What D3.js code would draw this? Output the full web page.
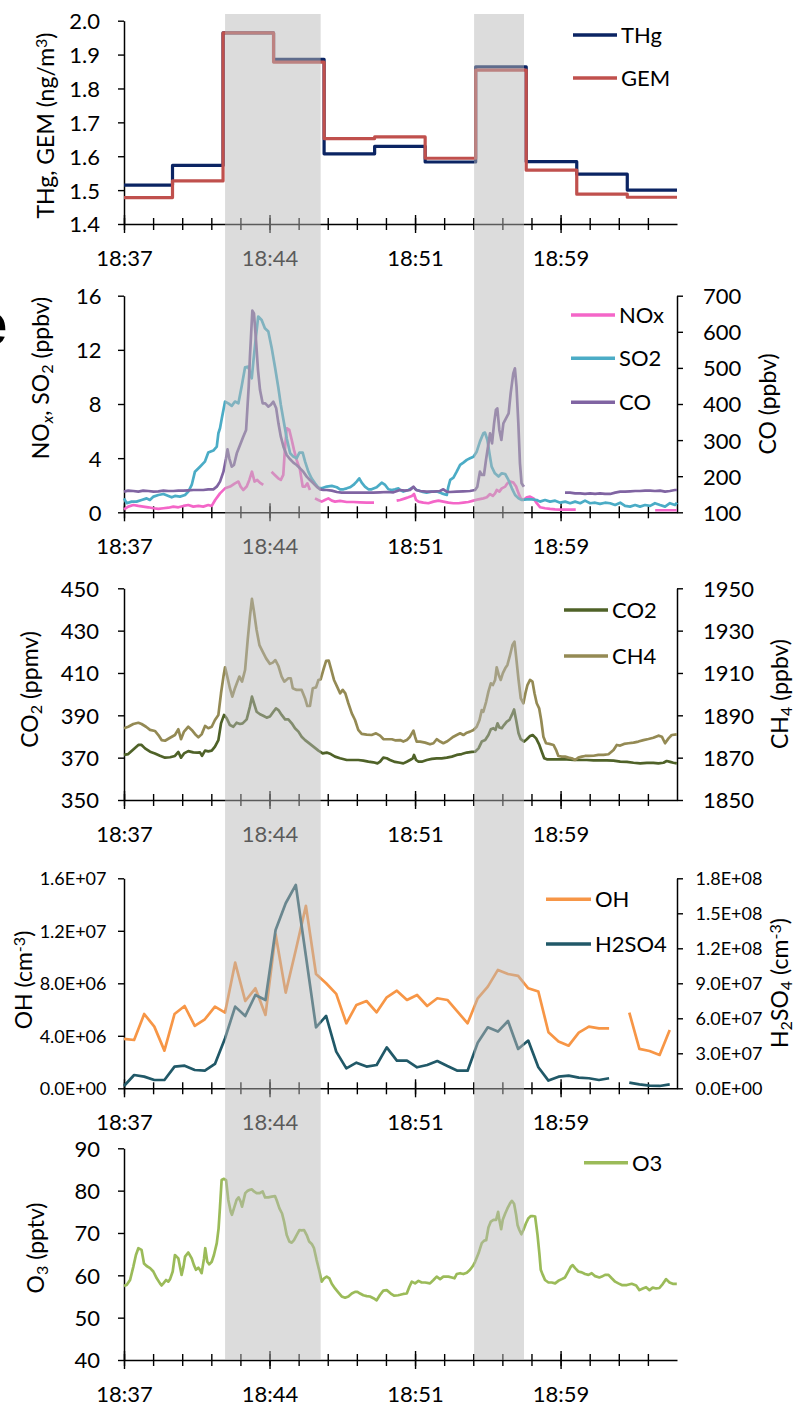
<!DOCTYPE html>
<html>
<head>
<meta charset="utf-8">
<script src="https://cdn.jsdelivr.net/npm/d3@7/dist/d3.min.js"></script>
<style>
  body { margin: 0; background: #fff; }
  svg { display: block; }
  text { font-family: Lato, "Open Sans", sans-serif; fill: #000; }
</style>
</head>
<body>
<svg id="fig" width="795" height="1406"></svg>
<script>
// ---- time axis (minutes after 18:37:00) ----
const axisEndMin = 27.36;
const minorTickMin = [0, 1.44, 2.88, 4.32, 5.76, 7.2, 8.64, 10.08, 11.52, 12.96, 14.4, 15.84, 17.28, 18.72, 20.16, 21.6, 23.04, 24.48, 25.92];
const majorTickMin = [0, 7.2, 14.4, 21.6];
const tickLabels = ["18:37", "18:44", "18:51", "18:59"];

// plume encounters (shaded)
const plumeStart = [5.0, 17.32];
const plumeEnd = [9.73, 19.79];

// ---- mercury (2.5-min averages) ----
const hgMin = [0, 2.4, 4.9, 7.4, 9.9, 12.4, 14.9, 17.4, 19.9, 22.4, 24.9, 27.36];
const thg = [1.515, 1.573, 1.964, 1.886, 1.607, 1.629, 1.583, 1.864, 1.584, 1.547, 1.500, 1.500];
const gem = [1.478, 1.527, 1.964, 1.878, 1.652, 1.657, 1.594, 1.854, 1.559, 1.488, 1.479, 1.479];

// ---- NOx / SO2 / CO ----
const noxMin = [0,0.21,0.46,0.71,0.95,1.2,1.46,1.7,1.95,2.2,2.44,2.69,2.94,3.18,3.43,3.68,3.92,4.17,4.34,4.51,4.75,5,5.25,5.49,5.66,5.77,5.9,6.07,6.2,6.33,6.46,6.59,6.72,6.89,7.1,
  7.3,7.46,7.63,7.76,7.88,7.96,8.05,8.18,8.3,8.41,8.54,8.71,8.84,8.96,9.07,9.2,9.3,
  9.45,9.61,9.78,9.94,10.11,10.28,10.44,10.69,11.02,11.35,11.68,12.01,12.37,13,
  13.49,13.66,13.91,14.07,14.24,14.35,14.45,14.57,14.81,15.06,15.31,15.56,15.8,16.05,16.3,16.55,16.79,17.04,17.29,17.54,17.78,17.95,18.11,18.25,18.36,18.44,18.57,18.69,18.86,18.97,19.1,19.27,19.4,19.52,19.63,19.76,19.93,20.09,20.26,20.42,20.59,20.83,21.08,21.33,21.58,21.91,22.35,24,
  26.28,26.69,27.35];
const nox = [0.22,0.42,0.54,0.47,0.42,0.37,0.3,0.25,0.3,0.34,0.42,0.37,0.47,0.54,0.42,0.47,0.42,0.54,0.47,0.91,1.4,1.77,1.9,2.14,2.27,1.9,1.65,1.9,2.39,3.0,2.27,2.39,2.19,2.02,null,
  3.0,2.76,2.51,2.39,2.76,4.61,6.21,6.08,5.34,4.61,3.87,3.13,1.9,1.9,2.14,1.65,null,
  1.03,0.91,0.79,0.91,1.03,0.86,0.79,0.84,0.76,0.76,0.74,0.71,0.71,null,
  0.86,0.91,1.03,1.11,1.21,1.35,0.91,0.79,0.71,0.67,0.79,0.86,0.79,0.71,0.67,0.67,0.71,0.76,0.86,0.96,1.03,1.11,1.35,1.21,1.4,1.65,1.53,1.77,1.9,2.14,2.27,2.19,1.9,1.4,1.03,0.91,1.11,1.16,1.03,0.67,0.37,0.3,0.25,0.22,0.2,0.2,0.2,null,
  0.15,0.15,0.15];

const so2Min = [0,0.13,0.38,0.62,0.87,1.12,1.28,1.46,1.7,1.95,2.2,2.36,2.52,2.77,3.02,3.18,3.35,3.51,3.76,4,4.17,4.42,4.59,4.67,4.75,4.84,5,5.16,5.33,5.49,5.66,5.82,5.99,6.15,6.32,6.4,6.51,6.64,6.81,6.97,7.14,7.31,7.48,7.64,7.76,7.89,8.05,8.22,8.38,8.54,8.68,8.84,8.96,9.12,9.28,9.45,9.61,9.78,10.03,10.28,10.53,10.69,10.86,11.02,11.18,11.35,11.51,11.64,11.76,11.92,12.09,12.25,12.5,12.75,12.92,13.08,13.25,13.41,13.58,
  13.66,13.82,14.07,14.32,14.48,14.73,14.97,15.22,15.48,15.72,15.97,16.05,16.14,16.3,16.46,16.63,16.79,16.96,17.12,17.29,17.45,17.61,17.78,17.86,17.98,18.08,18.19,18.35,18.53,18.69,18.86,19.02,19.19,19.35,19.52,19.68,19.93,20.17,20.42,20.58,20.83,21.08,21.33,21.58,21.83,22.07,22.32,22.57,22.81,23.06,23.31,23.55,23.8,24.05,24.3,24.55,24.79,25.04,25.29,25.53,25.78,26.03,26.27,26.52,26.77,27.01,27.26,27.36];
const so2 = [1.03,0.67,0.79,0.79,0.91,1.03,0.91,1.16,1.28,1.35,1.21,1.11,1.21,1.16,1.28,1.53,2.02,3.0,3.37,3.74,4.41,4.56,4.85,5.84,6.21,6.95,8.18,8.05,7.86,8.18,8.05,9.29,10.71,10.76,9.9,11.13,12.73,14.46,14.21,13.6,13.35,12.12,10.64,9.16,7.93,6.82,5.47,4.36,4.11,3.99,4.41,4.41,3.74,3.0,2.51,2.14,1.82,1.77,1.9,1.95,1.85,1.7,1.7,1.77,1.85,2.02,2.27,2.51,2.19,1.9,1.7,1.7,1.85,2.19,2.02,1.7,1.65,1.7,1.77,
  1.65,1.53,1.65,1.85,1.65,1.53,1.45,1.53,1.53,1.4,1.28,1.9,2.39,2.56,3.0,3.5,3.67,3.87,3.99,4.11,4.48,5.22,5.84,5.89,5.34,4.36,3.37,2.88,2.64,2.88,2.83,2.39,1.77,1.28,1.03,0.91,0.96,0.96,0.91,0.79,0.91,0.79,0.86,0.71,0.79,0.67,0.79,0.67,0.86,0.67,0.71,0.62,0.71,0.67,0.54,0.71,0.47,0.42,0.54,0.42,0.54,0.47,0.67,0.54,0.42,0.67,0.54,0.71];

const coMin = [0,0.21,0.46,0.71,0.95,1.2,1.46,1.7,1.95,2.2,2.44,2.69,2.94,3.18,3.43,3.68,3.92,4.17,4.42,4.59,4.75,4.92,5.05,5.12,5.21,5.33,5.44,5.58,5.74,5.9,6.04,6.1,6.17,6.23,6.3,6.35,6.43,6.53,6.63,6.73,6.86,6.99,7.14,7.25,7.39,7.53,7.64,7.76,7.89,8.05,8.22,8.38,8.54,8.71,8.87,9.04,9.2,9.37,9.53,9.69,9.86,10.03,10.28,10.53,10.77,11.02,11.35,11.68,12.01,12.33,12.66,13,13.33,
  13.66,13.91,14.15,14.32,14.45,14.65,14.97,15.3,15.63,15.8,15.96,16.13,16.45,16.78,17.12,17.37,17.48,17.61,17.71,17.81,17.91,18.01,18.11,18.21,18.31,18.4,18.47,18.57,18.67,18.77,18.9,19.03,19.13,19.26,19.34,19.42,19.51,19.59,19.67,19.78,20.8,
  21.82,22.07,22.32,22.57,22.81,23.06,23.31,23.55,23.8,24.05,24.3,24.55,24.79,25.04,25.29,25.53,25.78,26.03,26.27,26.52,26.77,27.01,27.26,27.36];
const co = [157.2,160,159,157.2,160,159,157.2,158,160,159,159,160,160,160.9,161.8,161.8,161.8,163.7,163.7,171,185,212.6,249.5,274.4,249.5,226.5,231,263.4,286.4,309.5,328,383.4,448,531,605,658.4,651,577,494,438.7,401.8,401.8,392.6,397.2,406.4,388,346.4,309.5,281.8,258.8,246.8,237.5,231,221.8,212.6,198.8,189.5,180.3,171,163.7,161.8,161.8,160,156.3,154.5,154.5,154.5,154.5,154.5,154.5,155.4,156.3,155.4,
  161.8,160,161.8,171,161.8,159,157.2,157.2,159,163.7,157.2,156.3,157.2,158,159,161.8,171,212.6,203.4,203.4,244.9,281.8,318.8,291,346.4,383.4,388,328,300.3,346.4,360.3,374.1,429.5,484.9,498.7,448,346.4,235.7,180.3,171,null,
  154.5,154.5,152.6,152.6,150.8,152.6,150.8,152.6,150.8,150.8,154.5,157.2,157.2,158,159,159,160,160,159,160,157.2,159,161.8,161.8];

// ---- CO2 / CH4 ----
const co2Min = [0,0.21,0.46,0.71,0.87,1.04,1.29,1.53,1.78,2.03,2.28,2.52,2.69,2.82,2.97,3.18,3.43,3.63,3.76,3.86,4.01,4.17,4.34,4.5,4.67,4.8,4.95,5.08,5.24,5.41,5.57,5.74,5.87,6.07,6.23,6.33,6.43,6.56,6.73,6.89,7.06,7.22,7.39,7.52,7.64,7.8,7.97,8.13,8.3,8.46,8.63,8.79,8.96,9.12,9.37,9.62,9.83,10.03,10.23,10.44,10.69,11.02,11.35,11.59,11.84,12.09,12.34,12.54,12.67,12.83,13,13.16,13.41,
  13.66,13.82,13.99,14.15,14.29,14.35,14.45,14.57,14.73,14.98,15.23,15.47,15.72,15.97,16.22,16.46,16.71,16.96,17.21,17.37,17.54,17.7,17.87,18.03,18.15,18.28,18.38,18.48,18.57,18.69,18.8,18.94,19.07,19.19,19.3,19.4,19.52,19.63,19.8,19.93,20.09,20.22,20.39,20.55,20.67,20.79,20.92,21.25,21.58,21.91,22.24,22.57,22.9,23.23,23.56,23.89,24.22,24.55,24.88,25.21,25.54,25.87,26.19,26.44,26.69,26.85,27.02,27.18,27.35];
const co2 = [371.3,371.7,373.9,376,376,374.4,372.8,372,370.9,370,370.2,370.8,372.7,370,372,373.1,372.5,372.4,372.5,370.9,373.3,373,373.3,375.2,378.3,386.2,390.2,388.6,385.4,384.6,386.5,385.9,386.2,388.1,394.1,398.8,395.7,391.7,390.5,389.8,388.9,389.4,391.7,393.3,392.5,390.2,388.1,388.1,386.2,383.9,382.3,379.9,378.3,377.1,375.2,373.3,372,372.4,371.7,370.5,369.7,368.9,368.9,368.9,368.6,368.1,367.8,367.3,368.1,370,369.7,368.9,368,
  367.6,367.3,368.1,368.9,369.7,371.3,368.9,368.1,368.1,368.9,369.4,369.7,369.7,370,370.5,371.3,371.7,372.4,372.7,372.8,374.4,377.6,378.3,380.7,383.4,383.9,383.1,386.2,384.3,383.9,385.4,387,387.8,390.2,392.8,387.8,381.5,378.7,377.6,378.7,380.2,380.7,379.1,376,372.8,369.7,369.2,369.2,369.2,369.2,368.9,368.9,368.9,368.7,368.7,368.7,368.6,368.1,368,367.6,367.3,367.5,367.5,367.3,367.6,368.4,368,367.6,367.3];

const ch4Min = [0,0.21,0.46,0.71,0.87,1.09,1.29,1.53,1.7,1.86,2.03,2.28,2.52,2.69,2.82,2.97,3.18,3.35,3.51,3.68,3.84,4.01,4.17,4.34,4.5,4.67,4.8,4.92,5,5.11,5.24,5.36,5.49,5.61,5.71,5.84,5.99,6.12,6.23,6.33,6.43,6.56,6.7,6.86,7.03,7.22,7.36,7.49,7.64,7.8,7.93,8.13,8.25,8.35,8.54,8.79,8.96,9.07,9.2,9.34,9.5,9.62,9.73,9.86,10,10.13,10.26,10.39,10.56,10.69,10.82,10.95,11.1,11.27,11.43,11.59,11.76,12.01,12.25,12.47,12.67,12.83,13,13.25,13.41,
  13.66,13.82,13.99,14.15,14.32,14.4,14.48,14.65,14.9,15.14,15.31,15.47,15.64,15.8,15.97,16.13,16.3,16.46,16.63,16.79,16.96,17.12,17.29,17.45,17.59,17.7,17.78,17.92,18.03,18.15,18.25,18.36,18.44,18.54,18.64,18.74,18.86,18.97,19.1,19.22,19.32,19.4,19.52,19.63,19.76,19.86,19.96,20.09,20.21,20.31,20.42,20.54,20.64,20.75,20.88,21.05,21.25,21.38,21.49,21.66,21.82,21.99,22.15,22.32,22.48,22.65,22.81,22.98,23.23,23.47,23.72,23.97,24.22,24.38,24.55,24.74,24.96,25.21,25.45,25.7,25.95,26.19,26.44,26.61,26.77,26.94,27.1,27.35];
const ch4 = [1883.9,1884.6,1885.9,1886.5,1885.9,1884.6,1883.1,1882.6,1880.7,1878.3,1878,1879.4,1880.7,1883.4,1878.7,1882.3,1884.6,1883.1,1881.2,1879.6,1881,1885,1883.9,1884.6,1887.8,1890.2,1900.4,1908.3,1912.7,1908.3,1902.8,1898.8,1902.8,1905.9,1908.3,1905.9,1911.4,1925.6,1936.6,1945,1939,1930.3,1923.2,1920.1,1916.9,1914.3,1914.9,1916.1,1913.3,1908.3,1905.9,1907.5,1907.5,1902.8,1902,1902,1898,1894.4,1894.4,1902.8,1903.2,1906.7,1907,1911.4,1915.7,1915.8,1911.4,1906.7,1903.2,1900.4,1902,1900.4,1895.7,1890.9,1887.8,1883.1,1881.2,1880.9,1880.7,1881.5,1880.4,1878.8,1878.7,1878.7,1878.2,
  1878.3,1877.6,1878.3,1879.9,1882.8,1879.9,1877.6,1877.6,1877.1,1876.3,1876.8,1878.7,1877.6,1876.8,1877.6,1878.7,1879.9,1880.7,1881.5,1880.7,1881.8,1882.3,1883.1,1884.6,1887.8,1892.5,1891.7,1896.5,1901.2,1905.1,1904.3,1906.7,1912.7,1909.1,1906.7,1909.8,1912.2,1913.8,1918.5,1923.2,1924.8,1917.7,1906.7,1898,1895.7,1900.4,1904.3,1906.7,1905.9,1900.4,1895.7,1893.3,1887.8,1879.9,1876.8,1876.5,1876,1873.6,1870.8,1870.5,1870.5,1870,1869.7,1868.9,1870,1870.5,1870.8,1870.8,1870.9,1871.3,1871.3,1871.6,1873.6,1876,1875.7,1876.5,1876.8,1877.1,1877.6,1878.3,1878.8,1879.4,1880.4,1879.9,1876.8,1879.1,1880.7,1881];

// ---- OH / H2SO4 (30-s samples) ----
const cimsMin = [0,0.5,1,1.5,2,2.5,3,3.5,4,4.5,5,5.5,6,6.5,7,7.5,8,8.5,9,9.5,10,10.5,11,11.5,12,12.5,13,13.5,14,14.5,15,15.5,16,16.5,17,17.5,18,18.5,19,19.5,20,20.5,21,21.5,22,22.5,23,23.5,24,24.5,25,25.5,26,26.5,27];
const oh = [3.76e6,3.68e6,5.66e6,4.70e6,2.87e6,5.66e6,6.27e6,4.75e6,5.26e6,6.22e6,5.77e6,9.57e6,6.65e6,7.62e6,5.59e6,1.173e7,7.29e6,1.054e7,1.39e7,8.71e6,8.0e6,7.19e6,4.95e6,6.35e6,6.65e6,5.79e6,6.93e6,7.44e6,6.73e6,7.11e6,6.27e6,6.86e6,6.73e6,5.84e6,4.95e6,6.86e6,7.75e6,9.02e6,8.71e6,8.56e6,7.62e6,7.37e6,4.27e6,3.56e6,3.25e6,4.24e6,4.70e6,4.57e6,4.57e6,null,5.77e6,3.0e6,2.84e6,2.54e6,4.44e6];
const h2so4 = [2.0e6,1.14e7,1.0e7,7.1e6,7.1e6,1.86e7,1.94e7,1.57e7,1.51e7,2.09e7,4.29e7,7.0e7,6.2e7,8.0e7,7.57e7,1.357e8,1.586e8,1.743e8,1.134e8,5.23e7,6.2e7,3.14e7,1.71e7,2.2e7,1.86e7,2.0e7,3.51e7,2.37e7,2.37e7,1.8e7,2.0e7,2.34e7,1.91e7,1.51e7,1.51e7,3.91e7,5.23e7,4.86e7,5.77e7,3.37e7,4.09e7,1.8e7,6.6e6,1.0e7,1.09e7,9.1e6,8.6e6,7.1e6,8.6e6,null,4.9e6,3.4e6,2.3e6,2.0e6,3.4e6];

// ---- O3 ----
const o3Min = [0,0.13,0.3,0.46,0.59,0.71,0.87,0.99,1.12,1.29,1.45,1.62,1.78,1.86,1.95,2.08,2.19,2.28,2.41,2.52,2.69,2.77,2.85,2.94,3.02,3.18,3.35,3.46,3.56,3.68,3.76,3.84,3.96,4.02,4.12,4.22,4.34,4.45,4.59,4.68,4.75,4.83,4.95,5.05,5.16,5.28,5.34,5.44,5.57,5.67,5.77,5.84,5.9,6,6.1,6.23,6.33,6.43,6.56,6.7,6.86,6.98,7.14,7.31,7.47,7.55,7.69,7.82,7.92,8.05,8.18,8.3,8.41,8.54,8.68,8.79,8.91,9.04,9.16,9.29,9.4,9.53,9.67,9.78,9.9,10.03,10.16,10.28,10.44,10.61,10.77,10.94,11.1,11.27,11.43,11.55,11.68,11.84,12.01,12.17,12.34,12.5,12.67,12.83,13,13.2,13.36,13.57,
  13.66,13.82,13.99,14.12,14.24,14.4,14.57,14.73,14.9,15.14,15.31,15.47,15.64,15.8,16.05,16.22,16.35,16.46,16.63,16.79,16.96,17.12,17.26,17.37,17.54,17.7,17.82,17.92,18.03,18.15,18.28,18.41,18.51,18.57,18.66,18.74,18.86,18.97,19.1,19.19,19.3,19.4,19.47,19.56,19.66,19.76,19.89,20.01,20.13,20.22,20.34,20.46,20.55,20.62,20.72,20.83,21,21.16,21.33,21.49,21.66,21.82,21.99,22.1,22.2,22.32,22.48,22.65,22.81,22.98,23.14,23.31,23.52,23.64,23.8,23.97,24.13,24.3,24.46,24.63,24.88,25.12,25.34,25.5,25.67,25.83,26,26.16,26.33,26.49,26.66,26.82,26.99,27.15,27.35];
const o3 = [57.5,57.7,58.9,62,64.8,66.4,66,62.8,62.2,61.7,60.9,59.3,58.1,57.6,58.1,58.9,58.5,59.1,60.9,64.8,64,62,60.1,62,64.4,65.4,64,62.4,61.3,61.8,61.3,60.5,64,66.4,63.2,62.6,63.2,64.8,67.6,71.1,76.2,82.5,82.8,82.5,77.8,75,74.3,75.8,77.8,78.4,77.4,76.2,77.4,79.4,79.9,80.2,80.3,79.8,79.4,79.4,79.8,78.4,78.4,78.6,78.7,77.8,75.8,74.6,72.7,69.5,68,67.7,68.3,69.5,70.7,70.6,70.7,69.5,68,67.4,66.4,63.6,60.9,58.5,59.3,59.7,59.3,58,56.9,55.9,55,54.7,55,55.7,56.1,56.1,55.7,55.3,55.1,55,54.6,54.1,55.4,56.4,56.5,55.7,55.2,55.3,
  55.4,55.6,55.7,57.3,58.5,58.1,58.7,58.3,58.3,58.1,58.9,59.7,59.1,59.7,59.7,59.5,59.3,60.3,60.5,60.3,60.6,61.3,62.2,63.2,65.2,67.6,68.2,68.3,71.3,72.7,73.1,73.1,75,73.1,70.9,73.1,74.6,75.8,77,77.6,76.9,74.3,71.9,70.7,69.7,70.7,72.3,73.5,74,74,73.9,69.5,65.2,61.3,60.1,58.9,58.3,58.3,58.1,58.7,59.1,59.5,61,62,62.4,61.7,60.9,60.7,60.3,60.1,60.5,59.8,59.5,59.7,60.1,60.1,59.3,58.5,58.1,57.7,57.7,58,57.6,56.5,56.9,57.2,56.5,57.1,56.9,57,58,59.1,58.3,58,58];

// ---- drawing ----
const svg = d3.select("#fig");
const X0 = 124, X1 = 677;
const x = d3.scaleLinear().domain([0, axisEndMin]).range([X0, X1]);

const AX = "#000";
const TICK_FS = 22;

function pairs(t, v) { return t.map((d, i) => [d, v[i]]); }

function drawLine(g, y, t, v, color, width, curve) {
  const line = d3.line()
    .defined(d => d[1] !== null)
    .x(d => x(d[0])).y(d => y(d[1]))
    .curve(curve || d3.curveLinear);
  g.append("path").datum(pairs(t, v))
    .attr("fill", "none").attr("stroke", color)
    .attr("stroke-width", width).attr("stroke-linejoin", "round")
    .attr("d", line);
}

function styleAxis(sel, fs) {
  sel.attr("font-family", null).attr("font-size", null);
  sel.select(".domain").attr("stroke", AX).attr("stroke-width", 1.5);
  sel.selectAll(".tick line").attr("stroke", AX).attr("stroke-width", 1.4);
  sel.selectAll(".tick text").style("font-size", fs + "px").attr("fill", "#000");
}

function timeAxis(g, yPos) {
  const minor = g.append("g").attr("transform", `translate(0,${yPos})`)
    .call(d3.axisBottom(x).tickValues(minorTickMin).tickSize(6).tickSizeOuter(0).tickFormat(""));
  styleAxis(minor, TICK_FS);
  minor.selectAll(".tick line").attr("y1", -6).attr("y2", 6);
  const major = g.append("g").attr("transform", `translate(0,${yPos})`)
    .call(d3.axisBottom(x).tickValues(majorTickMin).tickSize(9).tickSizeOuter(0)
      .tickFormat((d, i) => tickLabels[i]));
  styleAxis(major, TICK_FS);
  major.select(".domain").remove();
  major.selectAll(".tick line").attr("y1", -9).attr("y2", 9);
  major.selectAll(".tick text").attr("y", 42).attr("dy", null);
}

function leftAxis(g, y, ticks, fmt, labelRight, fs) {
  const a = g.append("g").attr("transform", `translate(${X0},0)`)
    .call(d3.axisLeft(y).tickValues(ticks).tickSize(6).tickSizeOuter(0)
      .tickPadding(X0 - labelRight - 6).tickFormat(fmt));
  styleAxis(a, fs);
  a.selectAll(".tick text").attr("dy", "0.36em");
}

function rightAxis(g, y, ticks, fmt, labelLeft, fs) {
  const a = g.append("g").attr("transform", `translate(${X1},0)`)
    .call(d3.axisRight(y).tickValues(ticks).tickSize(6).tickSizeOuter(0)
      .tickPadding(labelLeft - X1 - 6).tickFormat(fmt));
  styleAxis(a, fs);
  a.selectAll(".tick text").attr("dy", "0.36em");
}

// rotated axis title; parts: [text, "sub" | "sup" | "isub" | null]
function title(g, cx, cy, parts, fs) {
  const t = g.append("text")
    .attr("transform", `translate(${cx},${cy}) rotate(-90)`)
    .attr("text-anchor", "middle").attr("dy", "0.36em")
    .style("font-size", fs + "px");
  parts.forEach(([s, kind]) => {
    const sp = t.append("tspan").text(s);
    if (kind === "sub" || kind === "isub") {
      sp.attr("baseline-shift", "-0.22em").style("font-size", "70%");
      if (kind === "isub") sp.style("font-style", "italic");
    } else if (kind === "sup") {
      sp.attr("baseline-shift", "0.45em").style("font-size", "70%");
    }
  });
}

function legend(g, x1, x2, yPos, color, label) {
  g.append("line").attr("x1", x1).attr("x2", x2).attr("y1", yPos).attr("y2", yPos)
    .attr("stroke", color).attr("stroke-width", 3.6);
  g.append("text").attr("x", x2 + 4).attr("y", yPos).attr("dy", "0.36em")
    .style("font-size", "22px").text(label);
}

const LW = 2.7;

// Panel 1: THg, GEM
{
  const g = svg.append("g");
  const y = d3.scaleLinear().domain([1.4, 2.0]).range([224, 20.7]);
  leftAxis(g, y, [1.4, 1.5, 1.6, 1.7, 1.8, 1.9, 2.0], d3.format(".1f"), 100, TICK_FS);
  timeAxis(g, 224);
  drawLine(g, y, hgMin, thg, "#0b2463", 3.2, d3.curveStepAfter);
  drawLine(g, y, hgMin, gem, "#c0504d", 3.2, d3.curveStepAfter);
  title(g, 46, 125.5, [["THg, GEM (ng/m", null], ["3", "sup"], [")", null]], 23);
  legend(g, 573, 617, 35, "#0b2463", "THg");
  legend(g, 573, 617, 78, "#c0504d", "GEM");
}

// Panel 2: NOx, SO2 (left) and CO (right)
{
  const g = svg.append("g");
  const y = d3.scaleLinear().domain([0, 16]).range([512.3, 295.7]);
  const yCO = d3.scaleLinear().domain([100, 700]).range([512.3, 295.7]);
  leftAxis(g, y, [0, 4, 8, 12, 16], d3.format("d"), 101.5, TICK_FS);
  rightAxis(g, yCO, [100, 200, 300, 400, 500, 600, 700], d3.format("d"), 703, TICK_FS);
  timeAxis(g, 512.3);
  drawLine(g, y, noxMin, nox, "#f466c8", LW);
  drawLine(g, y, so2Min, so2, "#4bacc6", LW);
  drawLine(g, yCO, coMin, co, "#8064a2", LW);
  title(g, 41, 378, [["NO", null], ["x", "isub"], [", SO", null], ["2", "sub"], [" (ppbv)", null]], 23);
  title(g, 768, 404, [["CO (ppbv)", null]], 23);
  legend(g, 571, 615, 315, "#f466c8", "NOx");
  legend(g, 571, 615, 358.3, "#4bacc6", "SO2");
  legend(g, 571, 615, 402.3, "#8064a2", "CO");
  // panel letter, partly beyond the page edge
  g.append("text").attr("x", -27).attr("y", 345).style("font-size", "62px")
    .style("font-weight", "bold").style("font-family", "'Liberation Sans', Arial, sans-serif").text("e");
}

// Panel 3: CO2 (left) and CH4 (right)
{
  const g = svg.append("g");
  const y = d3.scaleLinear().domain([350, 450]).range([800, 588.3]);
  const yCH4 = d3.scaleLinear().domain([1850, 1950]).range([800, 588.3]);
  leftAxis(g, y, [350, 370, 390, 410, 430, 450], d3.format("d"), 99, TICK_FS);
  rightAxis(g, yCH4, [1850, 1870, 1890, 1910, 1930, 1950], d3.format("d"), 703, TICK_FS);
  timeAxis(g, 800);
  drawLine(g, y, co2Min, co2, "#4f6228", LW);
  drawLine(g, yCH4, ch4Min, ch4, "#948a54", LW);
  title(g, 30, 689.5, [["CO", null], ["2", "sub"], [" (ppmv)", null]], 23);
  title(g, 780, 694, [["CH", null], ["4", "sub"], [" (ppbv)", null]], 23);
  legend(g, 564, 608, 610, "#4f6228", "CO2");
  legend(g, 564, 608, 656, "#948a54", "CH4");
}

// Panel 4: OH (left) and H2SO4 (right)
{
  const g = svg.append("g");
  const y = d3.scaleLinear().domain([0, 1.6e7]).range([1088.3, 878.3]);
  const yS = d3.scaleLinear().domain([0, 1.8e8]).range([1088.3, 878.3]);
  const sci = d => d.toExponential(1).replace("e+", "E+0").toUpperCase();
  leftAxis(g, y, [0, 4e6, 8e6, 1.2e7, 1.6e7], sci, 106.5, 18);
  rightAxis(g, yS, [0, 3e7, 6e7, 9e7, 1.2e8, 1.5e8, 1.8e8], sci, 695.5, 18);
  timeAxis(g, 1088.3);
  drawLine(g, y, cimsMin, oh, "#f79646", LW);
  drawLine(g, yS, cimsMin, h2so4, "#215968", LW);
  title(g, 24, 980, [["OH (cm", null], ["-3", "sup"], [")", null]], 23);
  title(g, 780, 983, [["H", null], ["2", "sub"], ["SO", null], ["4", "sub"], [" (cm", null], ["-3", "sup"], [")", null]], 23);
  legend(g, 546, 591, 899.3, "#f79646", "OH");
  legend(g, 546, 591, 944, "#215968", "H2SO4");
}

// Panel 5: O3
{
  const g = svg.append("g");
  const y = d3.scaleLinear().domain([40, 90]).range([1360, 1148.3]);
  leftAxis(g, y, [40, 50, 60, 70, 80, 90], d3.format("d"), 100, TICK_FS);
  timeAxis(g, 1360);
  drawLine(g, y, o3Min, o3, "#9bbb59", LW);
  title(g, 36, 1248, [["O", null], ["3", "sub"], [" (pptv)", null]], 23);
  legend(g, 584, 628, 1162.7, "#9bbb59", "O3");
}

// translucent bands marking the plume encounters, laid over all panels
svg.append("g").selectAll("rect").data(plumeStart).join("rect")
  .attr("x", (d) => x(d))
  .attr("width", (d, i) => x(plumeEnd[i]) - x(d))
  .attr("y", 14).attr("height", 1360 - 14)
  .attr("fill", "rgb(184,184,184)").attr("fill-opacity", 0.49);
</script>
</body>
</html>
